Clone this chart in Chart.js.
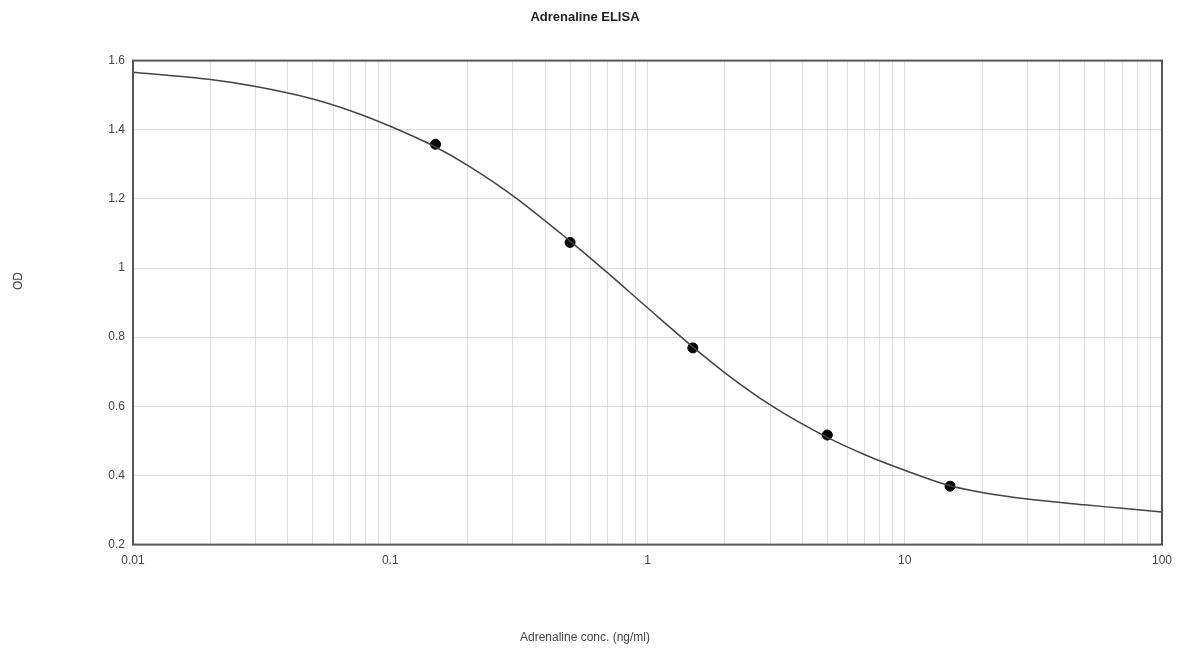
<!DOCTYPE html>
<html>
<head>
<meta charset="utf-8">
<script src="https://cdn.jsdelivr.net/npm/chart.js@4/dist/chart.umd.min.js"></script>
<style>
  html, body { margin: 0; padding: 0; background: #fff; }
  #wrap { width: 1177px; height: 651px; }
</style>
</head>
<body>
<div id="wrap"><canvas id="myChart" width="1177" height="651"></canvas></div>
<script>
// standards (ng/ml) and measured OD
var stdConc = [0.15, 0.5, 1.5, 5, 15];
var stdOD = [1.358, 1.074, 0.769, 0.517, 0.369];

// fitted curve
var curveConc = [0.01, 0.02, 0.03, 0.05, 0.07, 0.1, 0.15, 0.2, 0.3, 0.5, 0.7, 1, 1.5, 2, 3, 5, 7, 10, 15, 20, 30, 50, 70, 100];
var curveOD = [1.566, 1.545, 1.525, 1.489, 1.455, 1.41, 1.350, 1.297, 1.209, 1.078, 0.986, 0.885, 0.772, 0.697, 0.604, 0.510, 0.460, 0.415, 0.370, 0.351, 0.332, 0.315, 0.305, 0.294];

var xTicks = [];
[0.01, 0.1, 1, 10].forEach(function (d) {
  for (var i = 1; i < 10; i++) xTicks.push(+(d * i).toPrecision(3));
});
xTicks.push(100);
var xLabels = [0.01, 0.1, 1, 10, 100];
var yTicks = [0.2, 0.4, 0.6, 0.8, 1, 1.2, 1.4, 1.6];

function pts(xs, ys) {
  return xs.map(function (x, i) { return { x: x, y: ys[i] }; });
}

// frame round the plot + rotated "OD" label
var framePlugin = {
  id: "frame",
  afterDraw: function (chart) {
    var c = chart.ctx, a = chart.chartArea;
    c.save();
    c.strokeStyle = "#555";
    c.lineWidth = 2;
    c.strokeRect(a.left, a.top, a.right - a.left, a.bottom - a.top);
    c.translate(19, 281);
    c.rotate(-Math.PI / 2);
    c.fillStyle = "#444";
    c.font = "12px Arial, 'Liberation Sans', sans-serif";
    c.textAlign = "center";
    c.textBaseline = "middle";
    c.fillText("OD", 0, 0);
    c.restore();
  }
};

new Chart("myChart", {
  type: "scatter",
  data: {
    datasets: [
      {
        type: "line",
        data: pts(curveConc, curveOD),
        borderColor: "#444",
        borderWidth: 1.5,
        pointRadius: 0,
        fill: false,
        cubicInterpolationMode: "monotone"
      },
      {
        data: pts(stdConc, stdOD),
        backgroundColor: "#000",
        borderColor: "#000",
        pointRadius: 5
      }
    ]
  },
  options: {
    responsive: false,
    animation: false,
    layout: { padding: { left: 8, right: 15, top: 0, bottom: 6 } },
    plugins: {
      legend: { display: false },
      tooltip: { enabled: false },
      title: {
        display: true,
        text: "Adrenaline ELISA",
        color: "#222",
        font: { family: "Arial, 'Liberation Sans', sans-serif", size: 13, weight: "bold" },
        padding: { top: 10, bottom: 35 }
      },
      subtitle: {
        display: true,
        position: "bottom",
        text: "Adrenaline conc. (ng/ml)",
        color: "#444",
        font: { family: "Arial, 'Liberation Sans', sans-serif", size: 12 },
        padding: { top: 0, bottom: 0 }
      }
    },
    scales: {
      x: {
        type: "logarithmic",
        min: 0.01,
        max: 100,
        afterBuildTicks: function (s) {
          s.ticks = xTicks.map(function (v) { return { value: v }; });
        },
        afterFit: function (s) {
          s.height = 86;
          s.paddingLeft = 0;
          s.paddingRight = 0;
        },
        grid: { color: "#dedede", lineWidth: 1, drawTicks: false },
        border: { display: false },
        ticks: {
          autoSkip: false,
          maxRotation: 0,
          padding: 9,
          color: "#444",
          font: { family: "Arial, 'Liberation Sans', sans-serif", size: 12 },
          callback: function (v) {
            return xLabels.indexOf(v) >= 0 ? String(v) : "";
          }
        }
      },
      y: {
        min: 0.2,
        max: 1.6,
        afterBuildTicks: function (s) {
          s.ticks = yTicks.map(function (v) { return { value: v }; });
        },
        afterFit: function (s) { s.width = 125; },
        grid: { color: "#dedede", lineWidth: 1, drawTicks: false },
        border: { display: false },
        ticks: {
          padding: 8,
          color: "#444",
          font: { family: "Arial, 'Liberation Sans', sans-serif", size: 12 },
          callback: function (v) { return String(+v.toFixed(1)); }
        }
      }
    }
  },
  plugins: [framePlugin]
});
</script>
</body>
</html>
